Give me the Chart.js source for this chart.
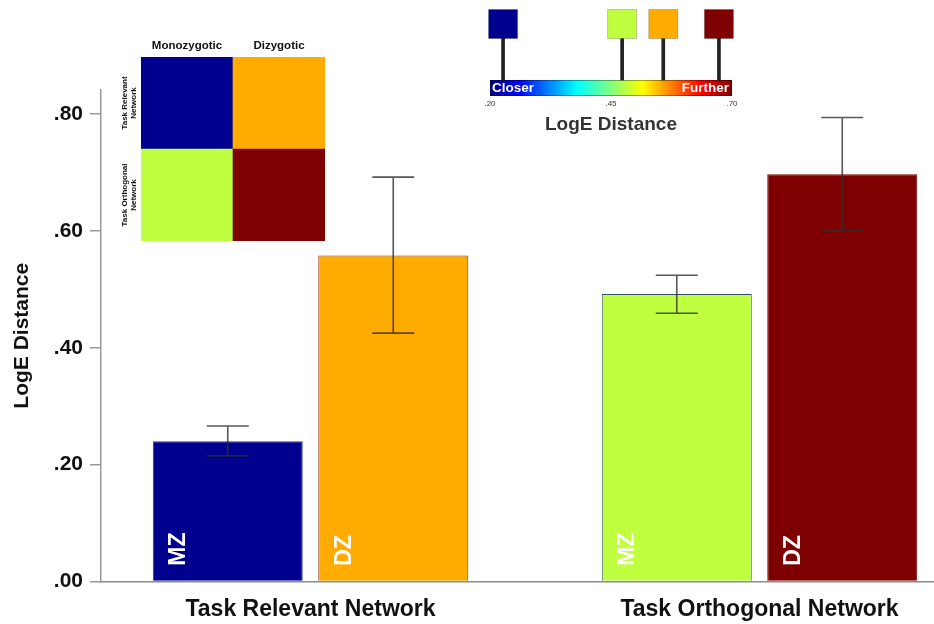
<!DOCTYPE html>
<html><head><meta charset="utf-8">
<script src="https://cdn.jsdelivr.net/npm/chart.js@4.4.1/dist/chart.umd.min.js"></script>
<style>
html,body{margin:0;padding:0;background:#fff;overflow:hidden}
#wrap{position:relative;width:934px;height:624px}
canvas{position:absolute}
#main{left:0;top:0}
#matrix{left:100px;top:30px}
#key{left:460px;top:0}
</style></head><body>
<div id="wrap">
<canvas id="main" width="934" height="624"></canvas>
<canvas id="matrix" width="240" height="220"></canvas>
<canvas id="key" width="300" height="140"></canvas>
</div>
<script>
// ---- data ----
const categories = ['Task Relevant Network', 'Task Orthogonal Network'];
const groupShort = ['MZ', 'DZ'];
const groupNames = ['Monozygotic', 'Dizygotic'];
const mzValues  = [0.240, 0.492];
const mzErrLow  = [0.215, 0.459];
const mzErrHigh = [0.266, 0.524];
const dzValues  = [0.558, 0.697];
const dzErrLow  = [0.425, 0.600];
const dzErrHigh = [0.692, 0.794];
const yTicks = [0, 0.2, 0.4, 0.6, 0.8];
const keyTicks = [0.20, 0.45, 0.70];
const keyMarkerValues = [0.227, 0.473, 0.558, 0.673];   // MZ-rel, MZ-orth, DZ-rel, DZ-orth
const keyLabels = ['Closer', 'Further'];
const axisTitle = 'LogE Distance';

// ---- styles ----
const mzColors  = ['#00008f', '#bfff3f'];
const dzColors  = ['#ffab00', '#7f0000'];
const mzBorders = ['#2e3f7a', '#34506e'];
const dzBorders = ['#8b3a1e', '#6e0000'];
const keyMarkerColors = [mzColors[0], mzColors[1], dzColors[0], dzColors[1]];
const FONT = '"Liberation Sans", Arial, Helvetica, sans-serif';
const fmt = v => v.toFixed(2).replace(/^0/, '');

// ---- plugins ----
const errorBars = {
  id: 'errorBars',
  afterDatasetsDraw(chart) {
    const ctx = chart.ctx, y = chart.scales.y;
    chart.data.datasets.forEach((ds, di) => {
      chart.getDatasetMeta(di).data.forEach((bar, i) => {
        const p = bar.getProps(['x', 'width'], true);
        const hi = y.getPixelForValue(ds.errHigh[i]);
        const lo = y.getPixelForValue(ds.errLow[i]);
        const cap = p.width * 0.14;
        ctx.save();
        ctx.strokeStyle = 'rgba(45,45,45,0.8)';
        ctx.lineWidth = 1.6;
        ctx.beginPath();
        ctx.moveTo(p.x, hi); ctx.lineTo(p.x, lo);
        ctx.moveTo(p.x - cap, hi); ctx.lineTo(p.x + cap, hi);
        ctx.moveTo(p.x - cap, lo); ctx.lineTo(p.x + cap, lo);
        ctx.stroke();
        ctx.restore();
      });
    });
  }
};
const barLabels = {
  id: 'barLabels',
  afterDatasetsDraw(chart) {
    const ctx = chart.ctx;
    chart.data.datasets.forEach((ds, di) => {
      chart.getDatasetMeta(di).data.forEach(bar => {
        const p = bar.getProps(['x', 'width', 'base'], true);
        ctx.save();
        ctx.translate(p.x - p.width / 2 + 26, p.base - 15);
        ctx.rotate(-Math.PI / 2);
        ctx.font = 'bold 23px ' + FONT;
        ctx.fillStyle = '#ffffff';
        ctx.textAlign = 'left';
        ctx.textBaseline = 'middle';
        ctx.fillText(ds.label, 0, 0);
        ctx.restore();
      });
    });
  }
};

// ---- main chart ----
new Chart(document.getElementById('main'), {
  type: 'bar',
  data: {
    datasets: [
      { label: groupShort[0], data: mzValues.map((v, i) => ({ x: i + 1, y: v })),
        backgroundColor: mzColors, borderColor: mzBorders, borderWidth: 1,
        errLow: mzErrLow, errHigh: mzErrHigh },
      { label: groupShort[1], data: dzValues.map((v, i) => ({ x: i + 1, y: v })),
        backgroundColor: dzColors, borderColor: dzBorders, borderWidth: 1,
        errLow: dzErrLow, errHigh: dzErrHigh }
    ]
  },
  options: {
    responsive: false, animation: false, events: [],
    layout: { padding: { top: 90, right: 0, bottom: 0, left: 0 } },
    datasets: { bar: { categoryPercentage: 0.7372, barPercentage: 0.9063 } },
    plugins: { legend: { display: false }, tooltip: { enabled: false } },
    scales: {
      x: {
        type: 'linear', min: 0.5334, max: 2.3886, offset: false,
        afterBuildTicks: s => { s.ticks = categories.map((c, i) => ({ value: i + 1 })); },
        afterFit: s => { s.height = 42.5; },
        ticks: { callback: v => categories[v - 1], autoSkip: false, maxRotation: 0, padding: 14,
                 font: { family: FONT, size: 23, weight: 'bold' }, color: '#111' },
        grid: { display: false, drawTicks: false },
        border: { display: true, color: '#8c8c8c', width: 1.5, z: 1 }
      },
      y: {
        min: 0, max: 0.841,
        afterBuildTicks: s => { s.ticks = yTicks.map(v => ({ value: v })); },
        afterFit: s => { s.width = 101; },
        ticks: { callback: v => fmt(v), padding: 7,
                 font: { family: FONT, size: 21, weight: 'bold' }, color: '#111' },
        grid: { drawOnChartArea: false, drawTicks: true, tickLength: 11, color: '#9a9a9a', lineWidth: 1.5 },
        border: { display: true, color: '#9a9a9a', width: 1.5, z: 1 },
        title: { display: true, text: axisTitle, color: '#111',
                 font: { family: FONT, size: 21, weight: 'bold' }, padding: { top: 10, bottom: 0 } }
      }
    }
  },
  plugins: [errorBars, barLabels]
});

// ---- inset matrix ----
const rowLabels = {
  id: 'rowLabels',
  afterDatasetsDraw(chart) {
    const ctx = chart.ctx, y = chart.scales.y, left = chart.chartArea.left;
    chart.data.datasets.forEach((ds, di) => {
      const lines = [ds.label.replace(/ Network$/, ''), 'Network'];
      const yc = y.getPixelForValue(di + 0.5);
      ctx.save();
      ctx.font = 'bold 8px ' + FONT;
      ctx.fillStyle = '#111';
      ctx.textAlign = 'center';
      ctx.textBaseline = 'middle';
      lines.forEach((t, k) => {
        ctx.save();
        ctx.translate(left - 16 + k * 8.5, yc);
        ctx.rotate(-Math.PI / 2);
        ctx.fillText(t, 0, 0);
        ctx.restore();
      });
      ctx.restore();
    });
  }
};
new Chart(document.getElementById('matrix'), {
  type: 'bar',
  data: {
    labels: groupNames,
    datasets: [
      { label: categories[1], data: [1, 1], backgroundColor: [mzColors[1], dzColors[1]] },
      { label: categories[0], data: [1, 1], backgroundColor: [mzColors[0], dzColors[0]] }
    ]
  },
  options: {
    responsive: false, animation: false, events: [],
    layout: { padding: { left: 41, right: 15, top: 0, bottom: 9 } },
    datasets: { bar: { barPercentage: 1, categoryPercentage: 1, borderWidth: 0 } },
    plugins: { legend: { display: false }, tooltip: { enabled: false } },
    scales: {
      x: { position: 'top', stacked: true, afterFit: s => { s.height = 27; },
           grid: { display: false, drawTicks: false }, border: { display: false },
           ticks: { padding: 4, font: { family: FONT, size: 11.5, weight: 'bold' }, color: '#111' } },
      y: { stacked: true, min: 0, max: 2, display: false }
    }
  },
  plugins: [rowLabels]
});

// ---- colour key ----
const colorBar = {
  id: 'colorBar',
  beforeDatasetsDraw(chart) {
    const { ctx, scales: { x, y } } = chart;
    const x0 = x.getPixelForValue(keyTicks[0]), x1 = x.getPixelForValue(keyTicks[keyTicks.length - 1]);
    const yTop = y.getPixelForValue(0.1667), yBot = y.getPixelForValue(0);
    const g = ctx.createLinearGradient(x0, 0, x1, 0);
    g.addColorStop(0, '#00007f');
    g.addColorStop(0.12, '#0000ff');
    g.addColorStop(0.36, '#00ffff');
    g.addColorStop(0.5, '#80ff80');
    g.addColorStop(0.63, '#ffff00');
    g.addColorStop(0.87, '#ff0000');
    g.addColorStop(1, '#7f0000');
    ctx.save();
    ctx.fillStyle = g;
    ctx.fillRect(x0, yTop, x1 - x0, yBot - yTop);
    ctx.strokeStyle = 'rgba(0,0,0,0.35)';
    ctx.lineWidth = 1;
    ctx.strokeRect(x0 + 0.5, yTop + 0.5, x1 - x0 - 1, yBot - yTop - 1);
    ctx.font = 'bold 13.5px ' + FONT;
    ctx.fillStyle = '#ffffff';
    ctx.textBaseline = 'middle';
    ctx.textAlign = 'left';
    ctx.fillText(keyLabels[0], x0 + 2, (yTop + yBot) / 2 + 0.5);
    ctx.textAlign = 'right';
    ctx.fillText(keyLabels[1], x1 - 3, (yTop + yBot) / 2 + 0.5);
    ctx.restore();
  }
};
new Chart(document.getElementById('key'), {
  type: 'bar',
  data: {
    datasets: [
      { type: 'scatter', data: keyMarkerValues.map(v => ({ x: v, y: 0.75 })),
        pointStyle: 'rect', pointRadius: 20.5, backgroundColor: keyMarkerColors,
        borderColor: 'rgba(0,0,0,0.2)', borderWidth: 1, order: 1, clip: false },
      { type: 'bar', data: keyMarkerValues.map(v => ({ x: v, y: [0.1667, 0.75] })),
        backgroundColor: '#222', barThickness: 3, order: 2 }
    ]
  },
  options: {
    responsive: false, animation: false, events: [],
    layout: { autoPadding: false, padding: { left: 30, right: 28, top: 0, bottom: 0 } },
    plugins: { legend: { display: false }, tooltip: { enabled: false } },
    scales: {
      x: { type: 'linear', min: keyTicks[0], max: keyTicks[keyTicks.length - 1], offset: false,
           afterBuildTicks: s => { s.ticks = keyTicks.map(v => ({ value: v })); },
           afterFit: s => { s.height = 44; },
           ticks: { callback: v => fmt(v), padding: 3, autoSkip: false, maxRotation: 0,
                    font: { family: FONT, size: 8 }, color: '#333' },
           grid: { display: false, drawTicks: false }, border: { display: false },
           title: { display: true, text: axisTitle, color: '#333',
                    font: { family: FONT, size: 19, weight: 'bold' }, padding: { top: 0, bottom: 4 } } },
      y: { min: 0, max: 1, display: false }
    }
  },
  plugins: [colorBar]
});
</script>
</body></html>
